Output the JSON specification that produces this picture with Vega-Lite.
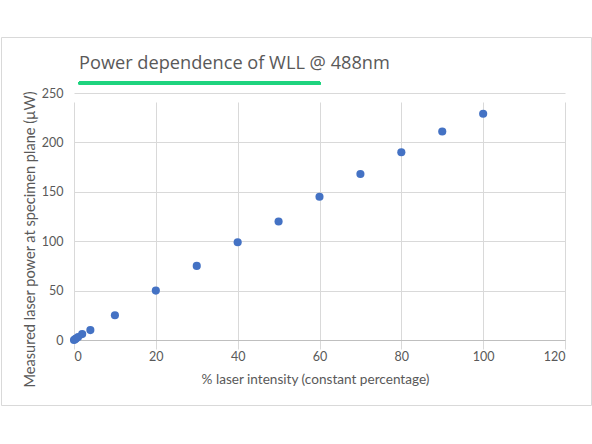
{
  "$schema": "https://vega.github.io/schema/vega-lite/v6.json",
  "width": 590,
  "height": 368,
  "padding": {"left": 1, "top": 37, "right": 1, "bottom": 39},
  "autosize": "none",
  "background": "#ffffff",
  "title": {
    "text": "Power dependence of WLL @ 488nm",
    "anchor": "start",
    "frame": "group",
    "orient": "top",
    "offset": -36,
    "dx": 78,
    "fontSize": 18.2,
    "fontWeight": "normal",
    "font": "Open Sans",
    "color": "#595959"
  },
  "data": {
    "values": [
      {"intensity": 0, "power": 0},
      {"intensity": 0.25, "power": 0.7},
      {"intensity": 0.5, "power": 1.5},
      {"intensity": 1, "power": 3},
      {"intensity": 2, "power": 6},
      {"intensity": 4, "power": 10},
      {"intensity": 10, "power": 25},
      {"intensity": 20, "power": 50},
      {"intensity": 30, "power": 75},
      {"intensity": 40, "power": 99},
      {"intensity": 50, "power": 120},
      {"intensity": 60, "power": 145},
      {"intensity": 70, "power": 168},
      {"intensity": 80, "power": 190},
      {"intensity": 90, "power": 211},
      {"intensity": 100, "power": 229}
    ]
  },
  "layer": [
    {
      "mark": {"type": "point", "filled": true, "opacity": 1, "size": 66, "color": "#4472C4"},
      "encoding": {
        "x": {
          "field": "intensity",
          "type": "quantitative",
          "scale": {"domain": [0, 120], "range": [73, 564], "nice": false},
          "axis": {
            "title": "% laser intensity (constant percentage)",
            "values": [0, 20, 40, 60, 80, 100, 120],
            "offset": -65,
            "labelPadding": 10,
            "titlePadding": 10,
            "titleFontSize": 13.6,
            "titleX": 314
          }
        },
        "y": {
          "field": "power",
          "type": "quantitative",
          "scale": {"domain": [0, 250], "range": [303, 56], "nice": false},
          "axis": {
            "title": "Measured laser power at specimen plane (µW)",
            "values": [0, 50, 100, 150, 200, 250],
            "offset": -73,
            "labelPadding": 11,
            "titlePadding": 4,
            "titleFontSize": 14.6,
            "titleY": 202
          }
        }
      }
    },
    {
      "mark": {"type": "rule", "color": "#1fd37f", "strokeWidth": 3.4, "strokeCap": "round", "clip": false},
      "encoding": {
        "x": {"datum": 1.5},
        "x2": {"datum": 59.9},
        "y": {"datum": 260}
      }
    }
  ],
  "config": {
    "view": {"stroke": "#d9d9d9", "strokeWidth": 1},
    "font": "Lato",
    "axis": {
      "labelFont": "Lato",
      "labelFontSize": 12.5,
      "labelColor": "#595959",
      "titleFont": "Lato",
      "titleFontWeight": "normal",
      "titleColor": "#595959",
      "gridColor": "#d9d9d9",
      "gridWidth": 1,
      "ticks": false,
      "domain": false
    },
    "axisX": {"domain": true, "domainColor": "#bfbfbf"}
  }
}
